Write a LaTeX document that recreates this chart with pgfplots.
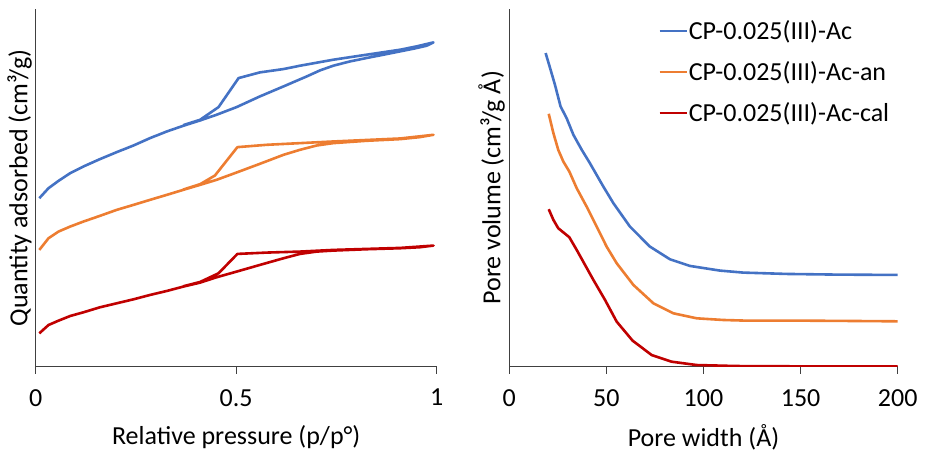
\documentclass[border=0pt]{standalone}
\usepackage{fontspec}
\setmainfont{Carlito}
\usepackage{pgfplots}
\pgfplotsset{compat=1.18}
\definecolor{cblue}{HTML}{4472C4}
\definecolor{corange}{HTML}{ED7D31}
\definecolor{cred}{HTML}{C00000}
\definecolor{caxis}{HTML}{404040}
\pgfplotsset{
  myaxis/.style={
    scale only axis,
    anchor=south west,
    axis x line=bottom, axis y line=left,
    axis line style={-, draw=caxis, line width=1.3pt},
    ytick=\empty,
    tick align=outside,
    major tick length=7pt,
    tick style={draw=caxis, line width=1.3pt},
    ymin=0, ymax=1072,
    /pgf/number format/assume math mode=true,
    tick label style={font=\fontsize{26}{30}\selectfont},
    label style={font=\fontsize{26}{30}\selectfont},
    xticklabel style={yshift=-12pt},
    every axis plot/.append style={line width=2.6pt, line join=round, no markers},
  }
}
\begin{document}
\begin{tikzpicture}
\begin{axis}[myaxis,
  at={(35.7pt,86.3pt)}, width=401pt, height=357.7pt,
  xmin=0, xmax=1, xtick={0,0.5,1}, xticklabels={0,0.5,1},
  xlabel={Relative pressure (p/p°)},
  ylabel={Quantity adsorbed (cm³/g)},
  xlabel style={at={(axis description cs:0.5,-0.197)}, anchor=center},
  ylabel style={at={(axis description cs:-0.040,0.5)}, anchor=center},
]
\addplot[cblue] coordinates {
(0.009,505)(0.032,535)(0.057,557)(0.086,580)(0.119,600)(0.160,622)(0.202,643)(0.244,663)(0.285,685)(0.327,705)(0.368,722)(0.410,738)(0.451,755)(0.501,778)(0.559,810)(0.618,840)(0.676,870)(0.709,888)(0.742,902)(0.784,915)(0.825,925)(0.867,935)(0.909,945)(0.950,955)(0.975,962)(0.992,972)
(0.950,960)(0.909,950)(0.825,935)(0.742,920)(0.659,902)(0.618,892)(0.559,882)(0.506,865)(0.456,778)(0.410,740)(0.368,724)
};
\addplot[corange] coordinates {
(0.009,350)(0.032,385)(0.057,405)(0.086,420)(0.119,435)(0.160,452)(0.202,470)(0.244,485)(0.285,500)(0.327,515)(0.368,530)(0.410,545)(0.451,560)(0.501,582)(0.559,608)(0.618,635)(0.659,650)(0.701,663)(0.742,670)(0.825,677)(0.909,682)(0.958,688)(0.992,695)
(0.909,684)(0.742,675)(0.659,670)(0.576,665)(0.503,658)(0.447,573)(0.410,547)(0.368,531)
};
\addplot[cred] coordinates {
(0.009,100)(0.032,125)(0.057,138)(0.086,152)(0.119,163)(0.160,178)(0.202,190)(0.244,202)(0.285,215)(0.327,227)(0.368,240)(0.410,252)(0.451,268)(0.501,285)(0.559,305)(0.618,325)(0.659,338)(0.701,345)(0.742,348)(0.825,352)(0.909,355)(0.958,358)(0.992,363)
(0.909,356)(0.742,350)(0.659,345)(0.576,342)(0.503,338)(0.456,280)(0.410,254)(0.368,241)
};
\end{axis}
\begin{axis}[myaxis,
  at={(509.3pt,86.3pt)}, width=388.4pt, height=357.7pt,
  xmin=0, xmax=200, xtick={0,50,100,150,200},
  xlabel={Pore width (Å)},
  ylabel={Pore volume (cm³/g Å)},
  xlabel style={at={(axis description cs:0.5,-0.197)}, anchor=center},
  ylabel style={at={(axis description cs:-0.0453,0.5)}, anchor=center},
  legend style={at={(axis description cs:0.383,0.968)}, anchor=north west,
    draw=none, fill=none, inner sep=0pt, row sep=20.5pt,
    font=\fontsize{26}{30}\selectfont,
    nodes={inner xsep=1pt, inner ysep=0pt}},
  legend cell align=left,
  legend image code/.code={\draw[#1, line width=2.6pt] (0pt,0pt) -- (27pt,0pt);},
]
\addplot[cblue] coordinates {
(18.7,940)(21.0,895)(23.5,845)(26.4,780)(29.5,745)(33.0,695)(37.3,650)(41.5,610)(48.4,540)(53.6,490)(62.1,420)(72.4,360)(82.7,322)(93.0,302)(108.5,288)(120.5,282)(142.8,278)(168.6,276)(200,275)
};
\addlegendentry{CP-0.025(III)-Ac}
\addplot[corange] coordinates {
(20.3,758)(22.7,700)(25.2,650)(27.8,615)(30.9,585)(34.7,535)(39.8,480)(45.0,420)(50.1,360)(55.3,310)(63.9,245)(74.2,190)(84.5,160)(96.5,145)(110.2,140)(122.2,138)(151.4,138)(177.2,137)(200,136)
};
\addlegendentry{CP-0.025(III)-Ac-an}
\addplot[cred] coordinates {
(20.3,472)(22.7,440)(25.2,415)(30.9,388)(34.7,350)(39.0,305)(43.3,260)(49.3,200)(55.3,135)(63.5,78)(73.3,35)(83.6,15)(96.5,5)(117.1,2)(151.4,1)(200,1)
};
\addlegendentry{CP-0.025(III)-Ac-cal}
\end{axis}
\pgfresetboundingbox
\useasboundingbox (0pt,0pt) rectangle (926pt,453pt);
\end{tikzpicture}
\end{document}
